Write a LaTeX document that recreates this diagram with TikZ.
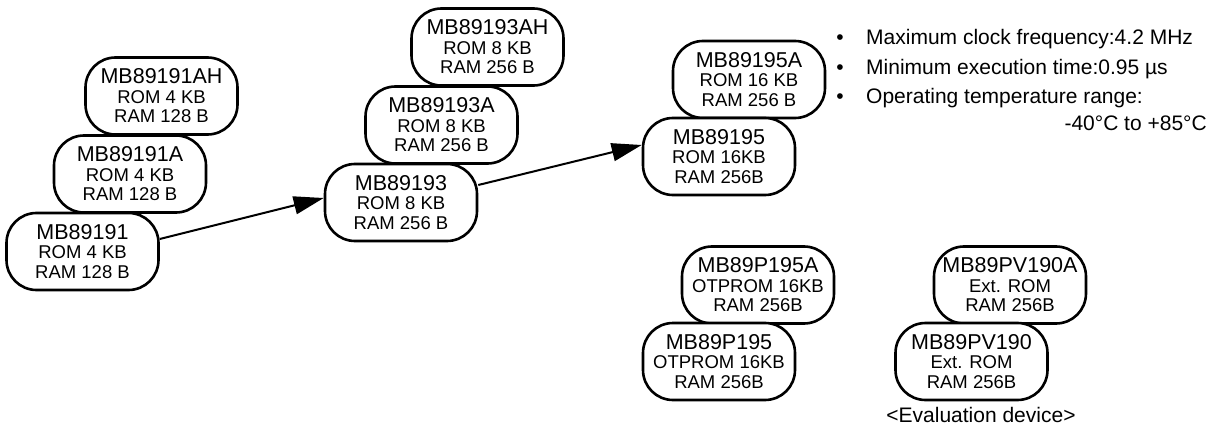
\documentclass[tikz,border=0pt]{standalone}
\usepackage{fontspec}
\setmainfont{Liberation Sans}
\usetikzlibrary{arrows.meta}
\newcommand\chipname[1]{{\fontsize{21.5}{19.5}\selectfont #1}}
\tikzset{
  chip/.style={draw, line width=2.6pt, rounded corners=30pt, minimum width=152pt,
    minimum height=77pt, inner sep=0pt, align=center, fill=white,
    font=\fontsize{18.5}{19.5}\selectfont},
  flow/.style={line width=2pt, -{Triangle[length=30pt,width=18pt]}},
  txt/.style={font=\fontsize{21}{21}\selectfont, inner sep=0pt}
}
\begin{document}
\begin{tikzpicture}[x=1pt,y=-1pt]
\useasboundingbox (0,0) rectangle (1211,425);
% MB89191 family
\node[chip] (a191ah) at (161.5,96) {\chipname{MB89191AH}\\ROM 4 KB\\RAM 128 B};
\node[chip] (a191a) at (130,174) {\chipname{MB89191A}\\ROM 4 KB\\RAM 128 B};
\node[chip] (a191) at (82.5,251.5) {\chipname{MB89191}\\ROM 4 KB\\RAM 128 B};
% MB89193 family
\node[chip] (a193ah) at (487.5,47) {\chipname{MB89193AH}\\ROM 8 KB\\RAM 256 B};
\node[chip] (a193a) at (441.5,125) {\chipname{MB89193A}\\ROM 8 KB\\RAM 256 B};
\node[chip] (a193) at (401,202.5) {\chipname{MB89193}\\ROM 8 KB\\RAM 256 B};
% MB89195 family
\node[chip] (a195a) at (749,79.5) {\chipname{MB89195A}\\ROM 16 KB\\RAM 256 B};
\node[chip] (a195) at (719,156.5) {\chipname{MB89195}\\ROM 16KB\\RAM 256B};
% OTP
\node[chip] (p195a) at (758,285) {\chipname{MB89P195A}\\OTPROM 16KB\\RAM 256B};
\node[chip] (p195) at (719,361.5) {\chipname{MB89P195}\\OTPROM 16KB\\RAM 256B};
% Evaluation
\node[chip] (pv190a) at (1010,285) {\chipname{MB89PV190A}\\Ext. ROM\\RAM 256B};
\node[chip] (pv190) at (971.5,361.5) {\chipname{MB89PV190}\\Ext. ROM\\RAM 256B};
\node[txt, anchor=base] (evl) at (981,422) {<Evaluation device>};
% arrows
\draw[flow] ([yshift=12.5pt]a191.east) -- ([yshift=4.5pt]a193.west);
\draw[flow] ([yshift=17.5pt]a193.east) -- ([yshift=11.5pt]a195.west);
% feature list
\node[txt, anchor=base] (b1) at (840,45) {•};
\node[txt, anchor=base] (b2) at (840,74.5) {•};
\node[txt, anchor=base] (b3) at (840,104) {•};
\node[txt, anchor=base west] (l1) at (866,45) {Maximum clock frequency:4.2 MHz};
\node[txt, anchor=base west] (l2) at (866,74.5) {Minimum execution time:0.95 µs};
\node[txt, anchor=base west] (l3) at (866,104) {Operating temperature range:};
\node[txt, anchor=base east] (l4) at (1207,131) {-40°C to +85°C};
\end{tikzpicture}
\end{document}
